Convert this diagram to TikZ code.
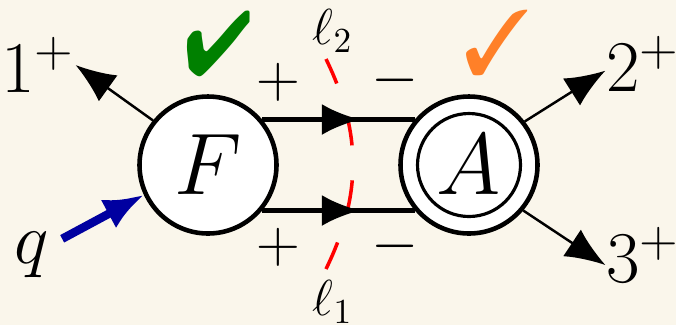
\documentclass[tikz,border=0pt]{standalone}
\usepackage{amsmath,amssymb}
\usepackage{pifont}
\usepackage{graphicx}
\usepackage{xcolor}
\usepackage{tikz}
\usetikzlibrary{arrows.meta,decorations.markings,positioning}

\definecolor{paper}{RGB}{250,246,235}
\definecolor{okgreen}{RGB}{0,128,0}
\definecolor{okorange}{RGB}{255,128,40}
\definecolor{qblue}{RGB}{0,0,160}

\begin{document}
\begin{tikzpicture}[node distance=1cm,
    blob/.style={circle, draw, line width=1.3pt, fill=white, minimum size=1.37cm, inner sep=0pt, font=\Huge},
    ring/.style={circle, draw, line width=0.9pt, minimum size=1.03cm, inner sep=0pt, font=\Huge},
    ext/.style={inner sep=0pt, font=\huge},
    sgn/.style={inner sep=0pt, font=\LARGE},
    tick/.style={inner sep=0pt, font=\fontsize{23}{23}\selectfont},
    leg/.style={-{Latex[length=4mm,width=3.2mm]}, line width=0.7pt},
    prop/.style={line width=1.2pt, postaction={decorate},
        decoration={markings, mark=at position 0.64 with {\arrow{Latex[length=3.8mm,width=3.1mm]}}}},
    cut/.style={red, line width=1pt, dash pattern=on 2.9mm off 3.5mm}]
    % Background
    \fill[paper] (0,0) rectangle (6.76,3.25);
    \useasboundingbox (0,0) rectangle (6.76,3.25);

    % Nodes
    \node (F) [blob] at (2.08,1.60) {$F$};
    \node (A) [blob, right of=F, xshift=1.61cm] {};
    \node (Ain) [ring] at (A) {$A$};

    \node (p1) [ext, left of=F, xshift=-0.70cm, yshift=1.00cm] {$1^+$};
    \node (q) [ext, left of=F, xshift=-0.76cm, yshift=-0.90cm] {$q$};
    \node (p2) [ext, right of=A, xshift=0.74cm, yshift=1.01cm] {$2^+$};
    \node (p3) [ext, right of=A, xshift=0.74cm, yshift=-0.90cm] {$3^+$};

    \node (okF) [tick, above of=F, anchor=base, xshift=0.11cm, yshift=-0.10cm, text=okgreen] {\scalebox{1}[1.13]{\ding{52}}};
    \node (okA) [tick, above of=A, anchor=base, xshift=0.28cm, yshift=-0.09cm, text=okorange] {\scalebox{1.1}[1.13]{\ding{51}}};

    \node (l2) [inner sep=0pt, font=\Large, above of=F, xshift=1.25cm, yshift=0.34cm] {$\ell_2$};
    \node (l1) [inner sep=0pt, font=\Large, below of=F, xshift=1.25cm, yshift=-0.37cm] {$\ell_1$};

    \node (s1) [sgn, right of=F, xshift=-0.30cm, yshift=0.83cm] {$+$};
    \node (s2) [sgn, right of=F, xshift=-0.30cm, yshift=-0.82cm] {$+$};
    \node (s3) [sgn, left of=A, xshift=0.26cm, yshift=0.85cm] {$-$};
    \node (s4) [sgn, left of=A, xshift=0.26cm, yshift=-0.81cm] {$-$};

    \coordinate (cutb) at (3.26,0.56);
    \coordinate (cutt) at (3.26,2.66);

    % Cut
    \draw [cut] (cutb) to[bend right=26] (cutt);

    % Connections
    \draw [prop] (F.40) -- (A.140);
    \draw [prop] (F.-40) -- (A.-140);
    \draw [leg] (F.141) -- (p1.east);
    \draw [leg] (A.38) -- (p2.190);
    \draw [leg] (A.-40) -- (p3.195);
    \draw [leg, qblue, line width=2.4pt, shorten <=1.4mm] (q) -- (F.205);
\end{tikzpicture}
\end{document}
